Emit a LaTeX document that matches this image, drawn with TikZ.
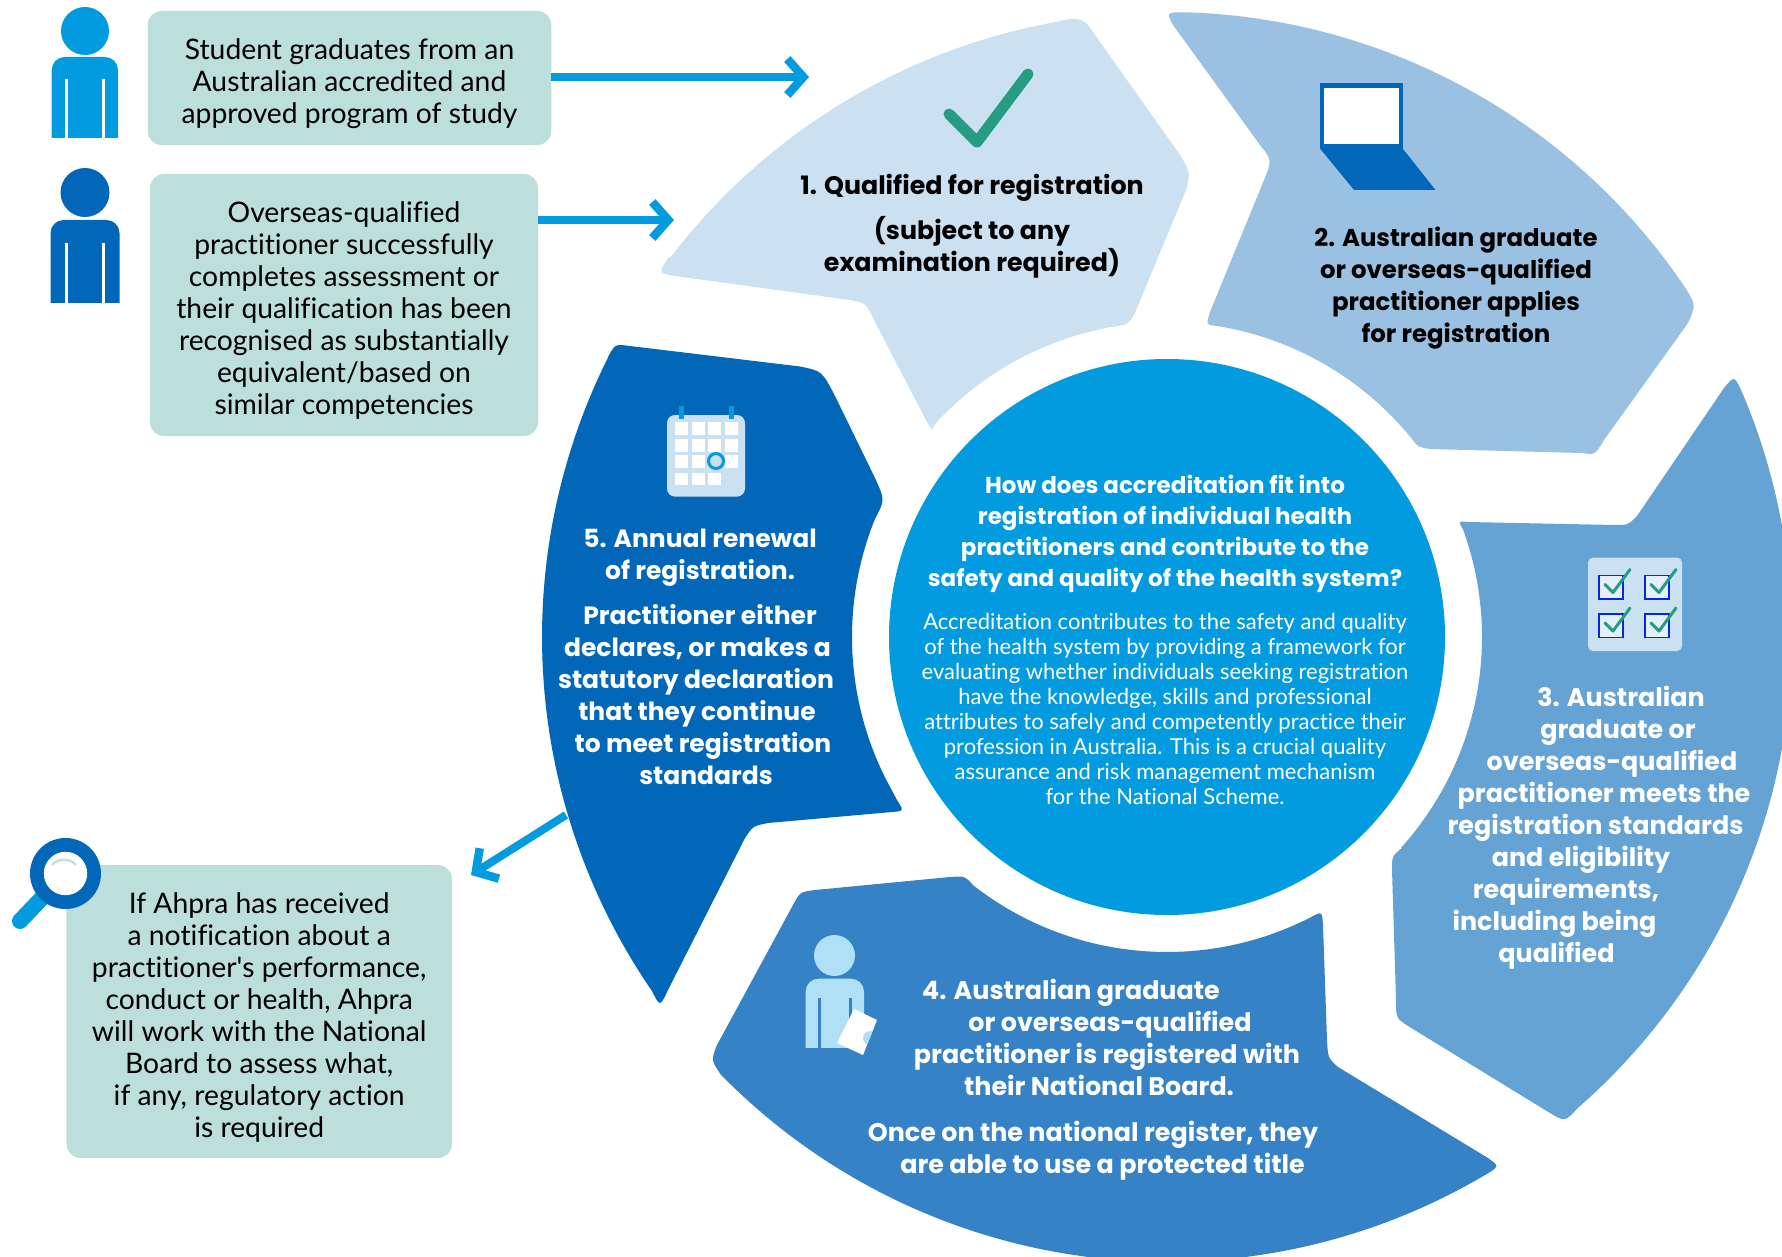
\documentclass[tikz,border=0pt]{standalone}
\usepackage{fontspec}
\usetikzlibrary{arrows.meta}
\setmainfont{Lato}[Ligatures=NoCommon]
\newfontfamily\hdfont{Poppins}
\definecolor{cA}{HTML}{CBE0F1}
\definecolor{cB}{HTML}{9BC1E2}
\definecolor{cC}{HTML}{66A3D5}
\definecolor{cD}{HTML}{3582C6}
\definecolor{cE}{HTML}{0367B9}
\definecolor{cF}{HTML}{039BDF}
\definecolor{cG}{HTML}{BCDFDB}
\definecolor{cH}{HTML}{279C85}
\definecolor{cI}{HTML}{B0E0F6}
\newcommand{\sh}[1]{\hspace*{#1pt}}
\newcommand{\tg}{\rule{0pt}{32pt}}
\newcommand{\bodyicon}[5]{% left,right,top,bottom,colour
  \fill[#5,rounded corners=13pt] (#1,#4+20) -- (#1,#3) -- (#2,#3) -- (#2,#4+20) -- cycle;
  \fill[white] (#1-1,#4) rectangle (#2+1,#4+22);
}
\newcommand{\chk}[2]{%
  \draw[blue!60!cE,line width=1.2pt,fill=cA!50!white] (#1,#2) rectangle ++(24,23.5);
  \draw[cH,line width=3pt,line cap=round,line join=round] (#1+6,#2+9) -- ++(8,8) -- ++(17,-23);
}
\tikzset{
  tealbox/.style={fill=cG,rounded corners=14pt,inner sep=0pt,align=center,text=black,font=\fontsize{28.3}{32}\selectfont},
  headtxt/.style={align=center,inner sep=0pt,font=\hdfont\bfseries\fontsize{#1}{32}\selectfont},
  flowarrow/.style={draw=cF,line width=8pt,-{Straight Barb[length=16pt,width=36pt,line width=8.5pt]}},
  oarc/.style={samples=90},
  iarc/.style={samples=60}
}
\begin{document}
\begin{tikzpicture}[x=1pt,y=-1pt]
\useasboundingbox (0,0) rectangle (1782,1257);
\fill[white] (0,0) rectangle (1782,1257);

% connector coordinates
\coordinate (tipa) at (809,77);
\coordinate (tipb) at (674,220);
\coordinate (froe) at (566,815);
\coordinate (tipc) at (471,875);

% teal boxes
\node[tealbox,minimum width=403.5pt,minimum height=134pt] (boxa) at (349.5,78) {\tg Student graduates from an\\Australian accredited and\\approved program of study};
\node[tealbox,minimum width=388pt,minimum height=262pt] (boxb) at (344,305) {\tg Overseas-qualified\\practitioner successfully\\completes assessment or\\their qualification has been\\recognised as substantially\\equivalent/based on\\similar competencies};
\node[tealbox,minimum width=385.5pt,minimum height=293pt] (boxc) at (259.2,1011.5) {\tg If Ahpra has received\\a notification about a\\practitioner\textquotesingle s performance,\\conduct or health, Ahpra\\will work with the National\\Board to assess what,\\if any, regulatory action\\is required};

% arrows
\draw[flowarrow] (boxa.east |- tipa) -- (tipa);
\draw[flowarrow] (boxb.east |- tipb) -- (tipb);
\draw[flowarrow] (froe) -- (tipc);

% persons
\fill[cF] (85,31) circle[radius=24];
\bodyicon{51.7}{118}{57}{138}{cF}
\fill[white] (65,79) rectangle (68,139);
\fill[white] (102,79) rectangle (105,139);
\fill[cE] (85,192.5) circle[radius=24.5];
\bodyicon{50.5}{119.5}{220}{303}{cE}
\fill[white] (65,243) rectangle (68,304);
\fill[white] (102,243) rectangle (105,304);

% segment 1
\fill[cA] plot[oarc,domain=217.4:260] ({1167+625*cos(\x)},{637+625*sin(\x)}) .. controls (1075,17) and (1084,18) .. (1090,28) -- (1178,152) .. controls (1190.5,172) .. (1186,190) -- (1134,315) .. controls (1127,325) .. (1112.3,326.8)
  -- plot[iarc,domain=260:222.5] ({1167+315*cos(\x)},{637+315*sin(\x)}) .. controls (932,431) .. (927,422) -- (875,322) .. controls (866,303) .. (850,300) -- (675,276) .. controls (658,273) .. (669,257) -- cycle;
% segment 2
\fill[cB] plot[oarc,domain=272:326] ({1167+625*cos(\x)},{637+625*sin(\x)}) .. controls (1696,305) .. (1688,323) -- (1604,440) .. controls (1595,455) .. (1582,453) -- (1430,449) .. controls (1418,447) .. (1411.8,438.8)
  -- plot[iarc,domain=321:279] ({1167+315*cos(\x)},{637+315*sin(\x)}) .. controls (1206,325) .. (1210,312) -- (1264,180) .. controls (1272,160) .. (1260,145) -- (1173,25) .. controls (1166,12) .. (1188.8,12.4) -- cycle;
% segment 3
\fill[cC] plot[oarc,domain=336.5:409] ({1167+625*cos(\x)},{637+625*sin(\x)}) .. controls (1565,1122) .. (1550,1113) -- (1408,1026) .. controls (1396,1018) .. (1396,1000) -- (1392,870) .. controls (1392,856) .. (1402,848)
  -- plot[iarc,domain=42:-20] ({1167+315*cos(\x)},{637+315*sin(\x)}) .. controls (1458,521) .. (1468,522) -- (1615,525) .. controls (1628,525) .. (1637,516) -- (1724,388) .. controls (1734,376) .. (1740.2,388) -- cycle;
% segment 4
\fill[cD] plot[oarc,domain=135.5:59] ({1167+625*cos(\x)},{637+625*sin(\x)}) .. controls (1499,1166) .. (1488,1158) -- (1338,1067) .. controls (1328,1058) .. (1327,1040) -- (1323,925) .. controls (1322,911) .. (1310,917.7)
  -- plot[iarc,domain=63:128] ({1167+315*cos(\x)},{637+315*sin(\x)}) .. controls (965,876) .. (950,877) -- (815,890) .. controls (800,892) .. (793,905) -- (717,1045) .. controls (711,1060) .. (721,1075) -- cycle;
% segment 5
\fill[cE] plot[oarc,domain=206.6:145.5] ({1167+625*cos(\x)},{637+625*sin(\x)}) .. controls (660,1007) .. (668,990) -- (745,838) .. controls (753,826) .. (768,823) -- (892,812) .. controls (904,811) .. (897,800)
  -- plot[iarc,domain=151:202] ({1167+315*cos(\x)},{637+315*sin(\x)}) .. controls (885,500) .. (875,478) -- (835,396) .. controls (822,371) .. (800,366.5) -- (630,346) .. controls (615,344) .. (608,357) -- cycle;

% centre circle
\node[circle,fill=cF,minimum size=556pt,inner sep=0pt] (hub) at (1167,637) {};

% icon: check
\draw[cH,line width=11pt,line cap=round,line join=round] (949,114) -- (977,142) -- (1028,74);
% icon: laptop
\fill[cE] (1320.4,83) rectangle (1403,149);
\fill[white] (1324,88) rectangle (1399,144);
\fill[cE] (1320.4,149) -- (1403,149) -- (1435.5,190) -- (1354,190) -- cycle;
% icon: checklist
\fill[cA,rounded corners=5pt] (1588,557.5) rectangle (1682,651);
\chk{1599}{575.5}
\chk{1645}{575.5}
\chk{1599}{614}
\chk{1645}{614}
% icon: person with paper
\fill[cI] (834.5,955.5) circle[radius=20.5];
\fill[cI,rounded corners=13pt] (805.6,1068) -- (805.6,978.7) -- (864,978.7) -- (864,1068) -- cycle;
\fill[cD] (804,1048) rectangle (866,1072);
\fill[cD] (818,998) rectangle (820.5,1049);
\fill[cD] (849,998) rectangle (851.5,1049);
\fill[white] (854,1009) -- (877,1020) -- (863,1055) -- (837,1043) -- cycle;
\begin{scope}
\clip (854,1009) -- (877,1020) -- (863,1055) -- (837,1043) -- cycle;
\fill[cI] (870,1038) circle[radius=7];
\end{scope}
% icon: calendar
\fill[cA,rounded corners=8pt] (667,415) rectangle (745,496.6);
\fill[cF] (679,406) rectangle (684,419);
\fill[cF] (729,406) rectangle (734,419);
\foreach \cx in {675,692,708,725} {
  \fill[white] (\cx,422) rectangle ++(13,13);
  \fill[white] (\cx,439) rectangle ++(13,12.5);
}
\foreach \cx in {675,692,725} \fill[white] (\cx,455) rectangle ++(13,12.5);
\foreach \cx in {675,692,708} \fill[white] (\cx,472.6) rectangle ++(13,12);
\draw[cF,line width=3pt] (716,461) circle[radius=7.5];
% icon: magnifier
\draw[cF,line width=16pt,line cap=round] (20,921) -- (42,898);
\fill[cE] (65.5,873.5) circle[radius=35.5];
\fill[white] (65.5,873.5) circle[radius=21.7];
\draw[cG,line width=2.2pt] (52,865) .. controls (58,858) and (70,858) .. (76,865);

% text
\node[headtxt=25.3,text=black] (ta) at (972,226) {1. Qualified for registration\\[13.5pt](subject to any\\examination required)};
\node[headtxt=24.4,text=black] (tb) at (1456,288.5) {2. Australian graduate\\or overseas-qualified\\practitioner applies\\for registration};
\node[headtxt=25.4,text=white] (tc) at (1600,827.5) {\sh{42}3. Australian\\\sh{36}graduate or\\\sh{24}overseas-qualified\\\sh{8}practitioner meets the\\\sh{-9}registration standards\\\sh{-38}and eligibility\\\sh{-68}requirements,\\\sh{-91}including being\\\sh{-87}qualified};
\node[headtxt=25.4,text=white] (td) at (1100,1079.5) {\sh{-58}4. Australian graduate\\\sh{20}or overseas-qualified\\\sh{14}practitioner is registered with\\\sh{-2}their National Board.\\[14pt]\sh{-14}Once on the national register, they\\\sh{5}are able to use a protected title};
\node[headtxt=25,text=white] (te) at (700,656.5) {5. Annual renewal\\of registration.\\[13pt]Practitioner either\\\sh{-5}declares, or makes a\\\sh{-8}statutory declaration\\\sh{-6}that they continue\\\sh{6}to meet registration\\\sh{12}standards};
\node[align=center,inner sep=0pt,text=white,font=\hdfont\bfseries\fontsize{23}{31}\selectfont] (tf) at (1165,533.5) {How does accreditation fit into\\registration of individual health\\practitioners and contribute to the\\safety and quality of the health system?};
\node[align=center,inner sep=0pt,text=white,font=\fontsize{22}{25}\selectfont] (tg) at (1165,709) {Accreditation contributes to the safety and quality\\of the health system by providing a framework for\\evaluating whether individuals seeking registration\\have the knowledge, skills and professional\\attributes to safely and competently practice their\\profession in Australia. This is a crucial quality\\assurance and risk management mechanism\\for the National Scheme.};
\end{tikzpicture}
\end{document}
